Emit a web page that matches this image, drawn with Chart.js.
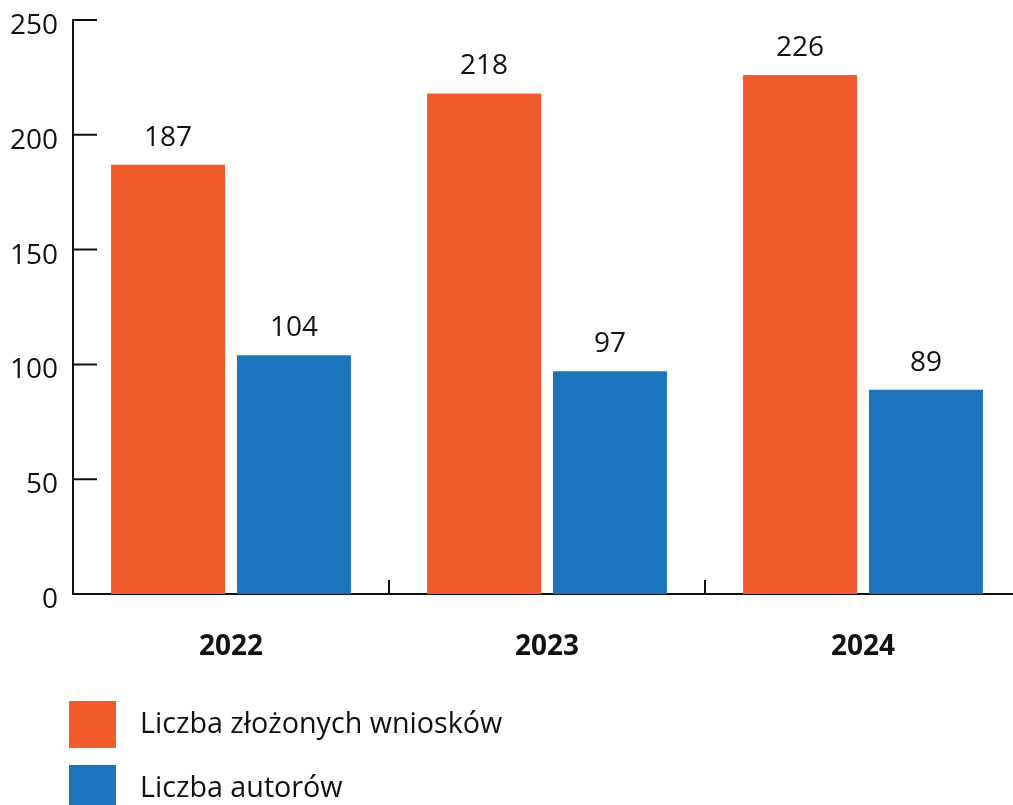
<!DOCTYPE html>
<html lang="pl">
<head>
<meta charset="utf-8">
<title>Wnioski i autorzy 2022–2024</title>
<script src="https://cdn.jsdelivr.net/npm/chart.js@4.4.1/dist/chart.umd.min.js"></script>
<style>
  html, body { margin: 0; padding: 0; background: #fff; overflow: hidden; }
  #wrap { width: 1021px; height: 805px; }
</style>
</head>
<body>
<div id="wrap"><canvas id="myChart" width="1021" height="805"></canvas></div>
<script>
const years = ['2022', '2023', '2024'];
const wnioski = [187, 218, 226];
const autorzy = [104, 97, 89];
const yTicks = [0, 50, 100, 150, 200, 250];

const ORANGE = '#f15a2b';
const BLUE = '#1c75bc';
const INK = '#111111';
const FONT = "'Open Sans', 'Noto Sans', sans-serif";

// short tick marks: inward on the y axis, upward between the years
const axisMarks = {
  id: 'axisMarks',
  afterDraw(chart) {
    const { ctx, chartArea, scales } = chart;
    ctx.save();
    ctx.strokeStyle = INK;
    ctx.lineWidth = 2;
    ctx.beginPath();
    yTicks.forEach(v => {
      if (v === 0) return;
      const y = scales.y.getPixelForValue(v);
      ctx.moveTo(chartArea.left, y);
      ctx.lineTo(chartArea.left + 24, y);
    });
    for (let i = 0; i < years.length - 1; i++) {
      const x = (scales.x.getPixelForTick(i) + scales.x.getPixelForTick(i + 1)) / 2;
      ctx.moveTo(x, chartArea.bottom);
      ctx.lineTo(x, chartArea.bottom - 14);
    }
    ctx.stroke();
    ctx.restore();
  }
};

// numbers above every bar
const barValues = {
  id: 'barValues',
  afterDatasetsDraw(chart) {
    const { ctx } = chart;
    ctx.save();
    ctx.font = '28px ' + FONT;
    ctx.fillStyle = INK;
    ctx.textAlign = 'center';
    ctx.textBaseline = 'alphabetic';
    chart.data.datasets.forEach((ds, di) => {
      chart.getDatasetMeta(di).data.forEach((bar, i) => {
        ctx.fillText(String(ds.data[i]), bar.x, bar.y - 19);
      });
    });
    ctx.restore();
  }
};

// legend stacked in a column under the axis
const columnLegend = {
  id: 'columnLegend',
  afterDraw(chart) {
    const { ctx } = chart;
    ctx.save();
    ctx.font = '28.7px ' + FONT;
    ctx.textBaseline = 'middle';
    ctx.textAlign = 'left';
    chart.data.datasets.forEach((ds, i) => {
      const top = 701 + i * 64;
      ctx.fillStyle = ds.backgroundColor;
      ctx.fillRect(69, top, 47, 47);
      ctx.fillStyle = INK;
      ctx.fillText(ds.label, 140, top + 24);
    });
    ctx.restore();
  }
};

new Chart(document.getElementById('myChart'), {
  type: 'bar',
  data: {
    labels: years,
    datasets: [
      { label: 'Liczba złożonych wniosków', data: wnioski, backgroundColor: ORANGE },
      { label: 'Liczba autorów', data: autorzy, backgroundColor: BLUE }
    ]
  },
  options: {
    responsive: false,
    animation: false,
    devicePixelRatio: 1,
    categoryPercentage: 0.797,
    barPercentage: 0.905,
    layout: { padding: { top: 20, right: 0, bottom: 0, left: 0 } },
    plugins: {
      legend: { display: false },
      tooltip: { enabled: false }
    },
    scales: {
      x: {
        grid: { display: false, drawTicks: false },
        border: { display: true, color: INK, width: 2 },
        ticks: {
          color: INK,
          padding: 36,
          font: { family: FONT, size: 28, weight: 'bold' }
        },
        afterFit: s => {
          s.height = 211;
          s.paddingLeft = 0;
          s.paddingRight = 0;
        }
      },
      y: {
        min: 0,
        max: 250,
        grid: { display: false, drawTicks: false },
        border: { display: true, color: INK, width: 2 },
        afterBuildTicks: s => { s.ticks = yTicks.map(v => ({ value: v })); },
        ticks: {
          color: INK,
          padding: 15,
          labelOffset: 6,
          font: { family: FONT, size: 28 }
        },
        afterFit: s => {
          s.width = 73;
          s.paddingTop = 0;
          s.paddingBottom = 0;
        }
      }
    }
  },
  plugins: [axisMarks, barValues, columnLegend]
});
</script>
</body>
</html>
